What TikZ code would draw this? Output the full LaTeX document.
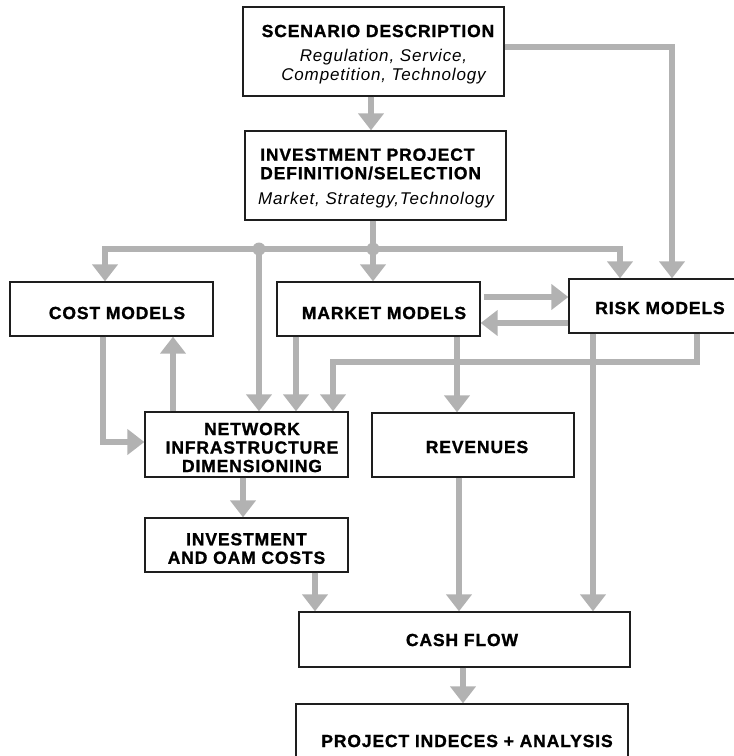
\documentclass[tikz,border=0pt]{standalone}
\usepackage{fontspec}
\setmainfont{Liberation Sans}[LetterSpace=5,
  BoldFont={Liberation Sans Bold}, BoldFeatures={FakeBold=1.2},
  ItalicFont={Liberation Sans Italic}]
\usetikzlibrary{arrows.meta}
\definecolor{flowgray}{RGB}{178,178,178}
\definecolor{boxline}{RGB}{30,30,30}
\begin{document}
\begin{tikzpicture}[x=1pt,y=-1pt,
  box/.style={draw=boxline, line width=1.3pt, fill=white, inner sep=0pt},
  hd/.style={inner sep=0pt, font=\fontsize{17.5}{18.5}\selectfont\bfseries},
  it/.style={inner sep=0pt, font=\fontsize{17}{19}\selectfont\itshape},
  wire/.style={draw=flowgray, line width=6pt},
  arr/.style={wire, -{Triangle[length=17pt,width=25pt]}}]
\useasboundingbox (0,0) rectangle (734,756);

% coordinates for the distribution bus and routed lines
\coordinate (bus) at (373,249);
\coordinate (tap) at (259,249);
\coordinate (rk) at (333,362);

% boxes
\node[box, minimum width=261, minimum height=89] (scen) at (373.5,51.5) {};
\node[box, minimum width=261, minimum height=89] (inv) at (375.5,175.5) {};
\node[box, minimum width=203, minimum height=54] (cost) at (111.5,309) {};
\node[box, minimum width=203, minimum height=54] (market) at (378.5,309) {};
\node[box, minimum width=191, minimum height=54] (risk) at (664.5,306) {};
\node[box, minimum width=203, minimum height=65] (net) at (246.5,444.5) {};
\node[box, minimum width=202, minimum height=64] (rev) at (473,445) {};
\node[box, minimum width=203, minimum height=54] (oam) at (246.5,545) {};
\node[box, minimum width=331, minimum height=55] (cash) at (464.5,639.5) {};
\node[box, minimum width=332, minimum height=76] (proj) at (462,742) {};

% connectors
\draw[arr] ([xshift=-2.5pt]scen.south) -- ([xshift=-2.5pt]scen.south |- inv.north);
\draw[arr] ([yshift=4.5pt]scen.east) -| ([xshift=7.5pt]risk.north);
\draw[wire] ([xshift=-2.5pt]inv.south) -- (bus);
\draw[arr] (bus) -- (bus |- market.north);
\draw[arr] (bus) -| ([xshift=-6.5pt]cost.north);
\draw[arr] (bus) -| ([xshift=-44.5pt]risk.north);
\draw[arr] (tap) -- (tap |- net.north);
\fill[flowgray] (bus) circle (6.5);
\fill[flowgray] (tap) circle (6.5);
\draw[arr] ([xshift=3pt,yshift=12pt]market.east) -- ([yshift=12pt]market.east -| risk.west);
\draw[arr] ([yshift=-17pt]risk.west) -- ([yshift=-17pt]risk.west -| market.east);
\draw[arr] ([xshift=-82.5pt]market.south) -- ([xshift=-82.5pt]market.south |- net.north);
\draw[arr] ([xshift=78.5pt]market.south) -- ([xshift=78.5pt]market.south |- rev.north);
\draw[arr] ([xshift=32.5pt]risk.south) |- (rk) -- (rk |- net.north);
\draw[arr] ([xshift=-71.5pt]risk.south) -- ([xshift=-71.5pt]risk.south |- cash.north);
\draw[arr] ([xshift=-8.5pt]cost.south) |- ([yshift=2.5pt]net.west);
\draw[arr] ([xshift=-73.5pt]net.north) -- ([xshift=-73.5pt]net.north |- cost.south);
\draw[arr] ([xshift=-3.5pt]net.south) -- ([xshift=-3.5pt]net.south |- oam.north);
\draw[arr] ([xshift=68.5pt]oam.south) -- ([xshift=68.5pt]oam.south |- cash.north);
\draw[arr] ([xshift=-14pt]rev.south) -- ([xshift=-14pt]rev.south |- cash.north);
\draw[arr] ([xshift=-1.5pt]cash.south) -- ([xshift=-1.5pt]cash.south |- proj.north);

% texts
\node[hd] (scenT) at (378,31) {SCENARIO DESCRIPTION};
\node[it, align=center] (scenS) at (383.5,66.5) {Regulation, Service,\\Competition, Technology};
\node[hd, align=left, anchor=west] (invT) at (260,164) {INVESTMENT PROJECT\\DEFINITION/SELECTION};
\node[it, anchor=west] (invS) at (258,200) {Market, Strategy,Technology};
\node[hd] (costT) at (117,313) {COST MODELS};
\node[hd] (marketT) at (384,313) {MARKET MODELS};
\node[hd] (riskT) at (660,308) {RISK MODELS};
\node[hd, align=center] (netT) at (252,447.5) {NETWORK\\INFRASTRUCTURE\\DIMENSIONING};
\node[hd] (revT) at (477,447) {REVENUES};
\node[hd, align=center] (oamT) at (246.5,548.5) {INVESTMENT\\AND OAM COSTS};
\node[hd] (cashT) at (462,640) {CASH FLOW};
\node[hd] (projT) at (467,741) {PROJECT INDECES + ANALYSIS};
\end{tikzpicture}
\end{document}
